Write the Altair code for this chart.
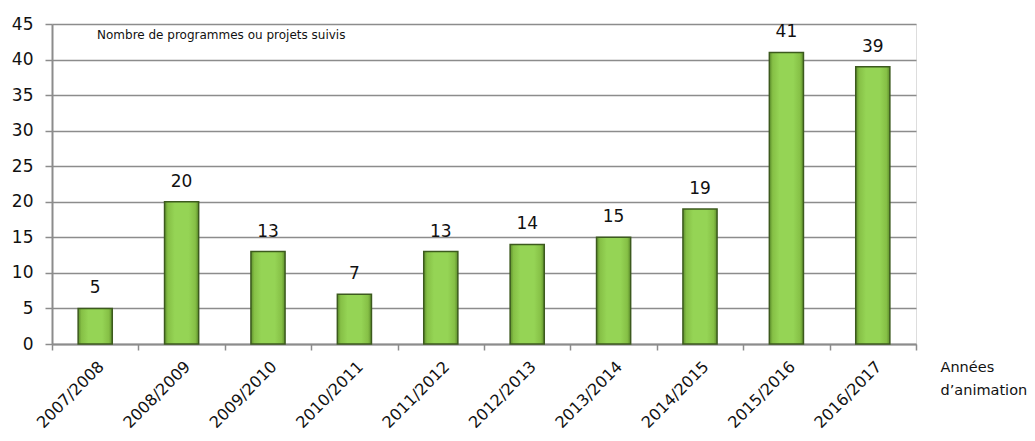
import altair as alt
import pandas as pd

annees = ["2007/2008", "2008/2009", "2009/2010", "2010/2011", "2011/2012",
          "2012/2013", "2013/2014", "2014/2015", "2015/2016", "2016/2017"]
valeurs = [5, 20, 13, 7, 13, 14, 15, 19, 41, 39]
titre = "Nombre de programmes ou projets suivis"
titre_axe_x = ["Années", "d\u2019animation"]
graduations_y = [0, 5, 10, 15, 20, 25, 30, 35, 40, 45]

df = pd.DataFrame({"annee": annees, "valeur": valeurs})
df_note = pd.DataFrame({"texte": [titre]})

FONT = "DejaVu Sans"
GRID = "#8c8c8c"
INK = "#111111"

grad = alt.Gradient(
    gradient="linear",
    x1=0, x2=1, y1=0, y2=0,
    stops=[
        alt.GradientStop(color="#5e8f2c", offset=0.0),
        alt.GradientStop(color="#86c046", offset=0.1),
        alt.GradientStop(color="#95d455", offset=0.3),
        alt.GradientStop(color="#95d455", offset=0.7),
        alt.GradientStop(color="#86c046", offset=0.9),
        alt.GradientStop(color="#5e8f2c", offset=1.0),
    ],
)

x_enc = alt.X(
    "annee:N",
    sort=annees,
    scale=alt.Scale(paddingInner=0, paddingOuter=0),
    axis=alt.Axis(
        title=titre_axe_x,
        titleX=888, titleY=16, titleAlign="left", titleBaseline="top",
        titleFont=FONT, titleFontSize=14.5, titleFontWeight="normal", titleColor=INK,
        titleLineHeight=23,
        labelAngle=-45, labelAlign="right", labelBaseline="top",
        labelFont=FONT, labelFontSize=16, labelColor=INK, labelPadding=8,
        tickBand="extent", tickSize=6, tickColor=GRID, tickWidth=1.5,
        domainColor=GRID, domainWidth=2, grid=False,
    ),
)
y_enc = alt.Y(
    "valeur:Q",
    scale=alt.Scale(domain=[0, 45], nice=False, zero=True),
    axis=alt.Axis(
        title=None, values=graduations_y, labelOverlap=False,
        labelFont=FONT, labelFontSize=17, labelColor=INK, labelPadding=12,
        tickSize=7, tickColor=GRID, tickWidth=1.5,
        domainColor=GRID, domainWidth=2,
        grid=True, gridColor=GRID, gridWidth=1.5,
    ),
)

base = alt.Chart(df)
bars = base.mark_bar(
    color=grad, stroke="#3c5a1e", strokeWidth=1.5,
    width=alt.RelativeBandSize(0.395),
).encode(x=x_enc, y=y_enc)
labels = base.mark_text(
    font=FONT, fontSize=17, color=INK, baseline="alphabetic", dy=-15
).encode(x=x_enc, y=y_enc, text="valeur:Q")
note = alt.Chart(df_note).mark_text(
    font=FONT, fontSize=12, color=INK, align="left", baseline="middle"
).encode(x=alt.value(45), y=alt.value(11), text="texte:N")

chart = alt.layer(bars, labels, note).properties(
    width=864, height=320,
    autosize=alt.AutoSizeParams(type="none"),
    padding={"left": 44, "top": 16, "right": 111, "bottom": 89},
).configure_view(stroke=None).configure(background="white")

chart.save("out.html", embed_options={"renderer": "svg", "actions": False})
